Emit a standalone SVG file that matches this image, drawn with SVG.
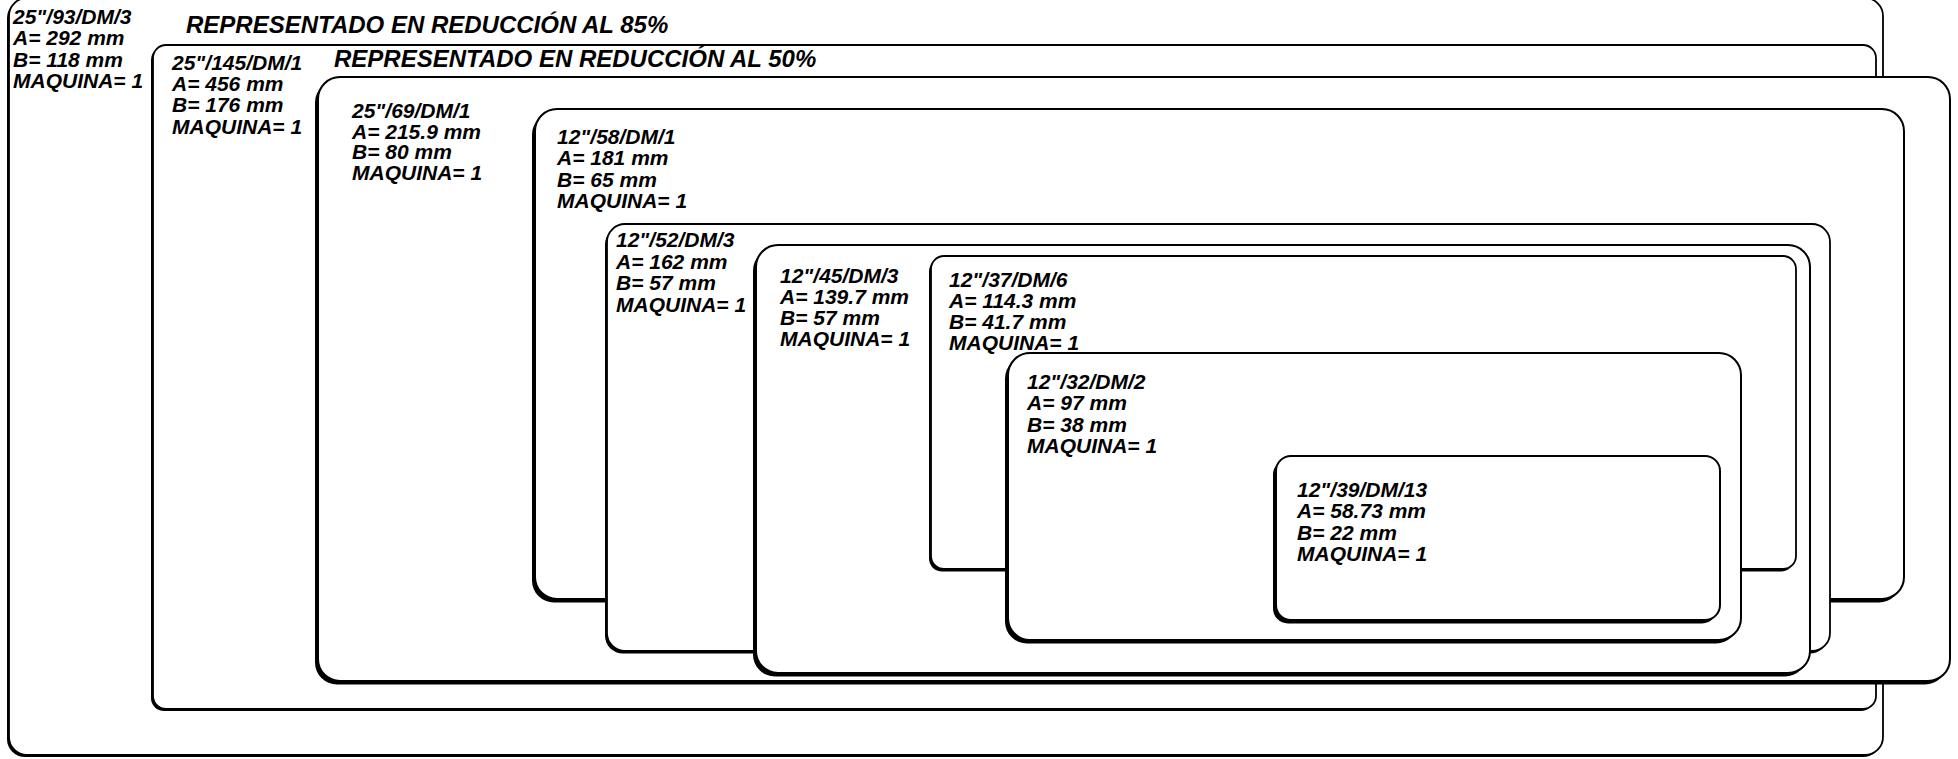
<svg xmlns="http://www.w3.org/2000/svg" width="1958" height="759" viewBox="0 0 1958 759">
<style>
.bx{fill:#fff;stroke:#000;stroke-width:2}
.thin{stroke-width:1.8}
.sh{fill:#000}
.t{font-family:"Liberation Sans",Arial,sans-serif;font-weight:bold;font-style:italic;font-size:21px;fill:#000}
.ttl{font-size:24px}
</style>
<rect width="1958" height="759" fill="#fff"/>
<g id="box-25-93-DM-3">
<rect class="sh" x="7" y="0" width="1874" height="757" rx="18"/>
<rect class="bx thin" x="9" y="-2" width="1874" height="757" rx="18"/>
<text class="t" x="13" y="24"><tspan x="13">25"/93/DM/3</tspan><tspan x="13" dy="21.3">A= 292 mm</tspan><tspan x="13" dy="21.3">B= 118 mm</tspan><tspan x="13" dy="21.3">MAQUINA= 1</tspan></text>
<text class="t ttl" x="186" y="33">REPRESENTADO EN REDUCCIÓN AL 85%</text>
</g>
<g id="box-25-145-DM-1">
<rect class="sh" x="151" y="47" width="1723" height="664" rx="13"/>
<rect class="bx thin" x="153" y="45" width="1723" height="664" rx="13"/>
<text class="t" x="172" y="70"><tspan x="172">25"/145/DM/1</tspan><tspan x="172" dy="21.2">A= 456 mm</tspan><tspan x="172" dy="21.2">B= 176 mm</tspan><tspan x="172" dy="21.2">MAQUINA= 1</tspan></text>
<text class="t ttl" x="334" y="67">REPRESENTADO EN REDUCCIÓN AL 50%</text>
</g>
<g id="box-25-69-DM-1">
<rect class="sh" x="315" y="80.5" width="1632" height="604" rx="22"/>
<rect class="bx" x="318" y="77" width="1632" height="604" rx="22"/>
<text class="t" x="352" y="118"><tspan x="352">25"/69/DM/1</tspan><tspan x="352" dy="20.7">A= 215.9 mm</tspan><tspan x="352" dy="20.7">B= 80 mm</tspan><tspan x="352" dy="20.7">MAQUINA= 1</tspan></text>
</g>
<g id="box-12-58-DM-1">
<rect class="sh" x="532" y="112.5" width="1369" height="490" rx="22"/>
<rect class="bx" x="535" y="109" width="1369" height="490" rx="22"/>
<text class="t" x="557" y="144"><tspan x="557">12"/58/DM/1</tspan><tspan x="557" dy="21.3">A= 181 mm</tspan><tspan x="557" dy="21.3">B= 65 mm</tspan><tspan x="557" dy="21.3">MAQUINA= 1</tspan></text>
</g>
<g id="box-12-52-DM-3">
<rect class="sh" x="605" y="226.5" width="1223" height="427" rx="18"/>
<rect class="bx thin" x="607" y="224" width="1223" height="427" rx="18"/>
<text class="t" x="616" y="247"><tspan x="616">12"/52/DM/3</tspan><tspan x="616" dy="21.7">A= 162 mm</tspan><tspan x="616" dy="21.7">B= 57 mm</tspan><tspan x="616" dy="21.7">MAQUINA= 1</tspan></text>
</g>
<g id="box-12-45-DM-3">
<rect class="sh" x="753" y="248.5" width="1054" height="428" rx="22"/>
<rect class="bx" x="756" y="245" width="1054" height="428" rx="22"/>
<text class="t" x="780" y="283"><tspan x="780">12"/45/DM/3</tspan><tspan x="780" dy="21">A= 139.7 mm</tspan><tspan x="780" dy="21">B= 57 mm</tspan><tspan x="780" dy="21">MAQUINA= 1</tspan></text>
</g>
<g id="box-12-37-DM-6">
<rect class="sh" x="929" y="258.5" width="865" height="313" rx="13"/>
<rect class="bx thin" x="931" y="256" width="865" height="313" rx="13"/>
<text class="t" x="949" y="287"><tspan x="949">12"/37/DM/6</tspan><tspan x="949" dy="21">A= 114.3 mm</tspan><tspan x="949" dy="21">B= 41.7 mm</tspan><tspan x="949" dy="21">MAQUINA= 1</tspan></text>
</g>
<g id="box-12-32-DM-2">
<rect class="sh" x="1005" y="356.5" width="733" height="287" rx="22"/>
<rect class="bx" x="1008" y="353" width="733" height="287" rx="22"/>
<text class="t" x="1027" y="389"><tspan x="1027">12"/32/DM/2</tspan><tspan x="1027" dy="21.3">A= 97 mm</tspan><tspan x="1027" dy="21.3">B= 38 mm</tspan><tspan x="1027" dy="21.3">MAQUINA= 1</tspan></text>
</g>
<g id="box-12-39-DM-13">
<rect class="sh" x="1273" y="459.5" width="444" height="164" rx="15"/>
<rect class="bx" x="1276" y="456" width="444" height="164" rx="15"/>
<text class="t" x="1297" y="497"><tspan x="1297">12"/39/DM/13</tspan><tspan x="1297" dy="21.3">A= 58.73 mm</tspan><tspan x="1297" dy="21.3">B= 22 mm</tspan><tspan x="1297" dy="21.3">MAQUINA= 1</tspan></text>
</g>
<g id="connectors"/>
</svg>
